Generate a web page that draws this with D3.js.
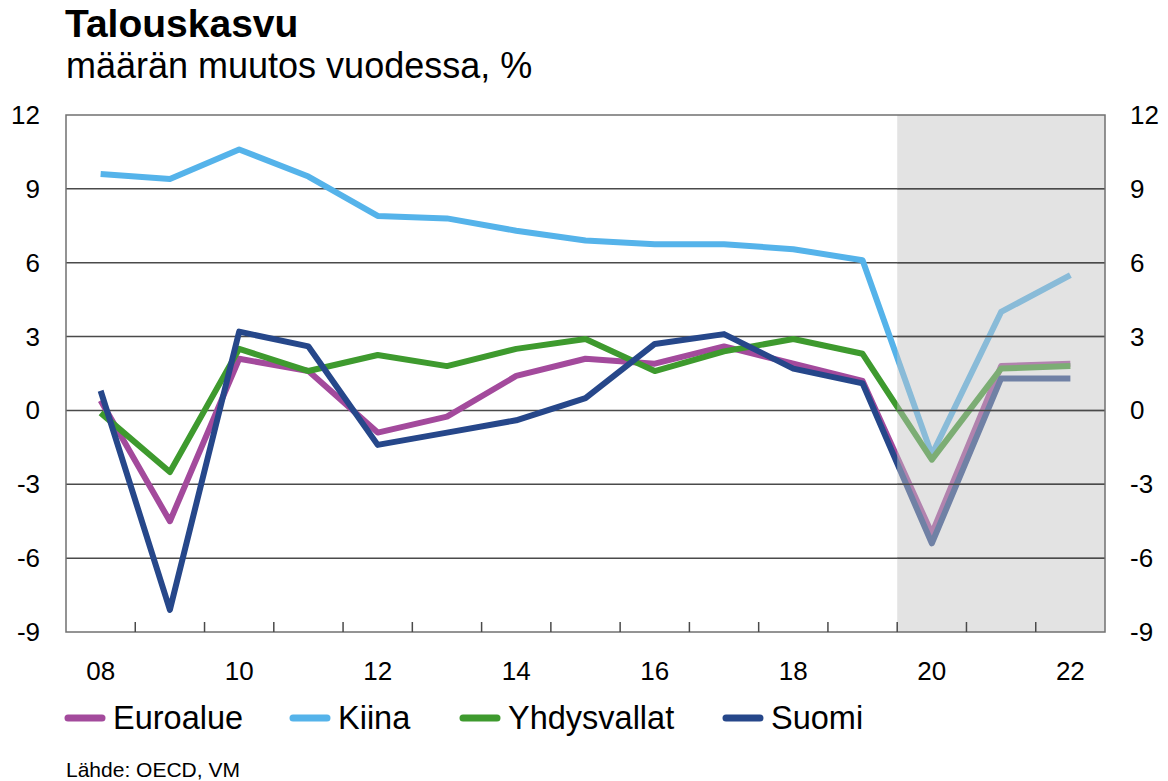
<!DOCTYPE html>
<html lang="fi">
<head>
  <meta charset="UTF-8">
  <title>Talouskasvu</title>
  <style>
    * {box-sizing: border-box;}
    html, body {
      margin: 0;
      padding: 0;
      background: #fff;
    }
    text {font-family: "Liberation Sans", Arial, sans-serif; fill: #000;}
  </style>
</head>
<body>
  <svg id="chart"></svg>

  <script src="https://d3js.org/d3.v7.min.js"></script>
  <script>
    const years = d3.range(2008, 2023)
    const yTicks = [12, 9, 6, 3, 0, -3, -6, -9]
    const forecastFrom = 2020

    const euroalue = [0.4, -4.5, 2.1, 1.6, -0.9, -0.25, 1.4, 2.1, 1.9, 2.6, 1.9, 1.2, -5.0, 1.8, 1.9]
    const kiina = [9.6, 9.4, 10.6, 9.5, 7.9, 7.8, 7.3, 6.9, 6.75, 6.75, 6.55, 6.1, -1.8, 4.0, 5.5]
    const yhdysvallat = [-0.1, -2.5, 2.5, 1.6, 2.25, 1.8, 2.5, 2.9, 1.6, 2.4, 2.9, 2.3, -2.0, 1.7, 1.8]
    const suomi = [0.8, -8.1, 3.2, 2.6, -1.4, -0.9, -0.4, 0.5, 2.7, 3.1, 1.7, 1.1, -5.4, 1.3, 1.3]

    const series = [
      {name: 'Euroalue', values: euroalue, color: '#a34a9c'},
      {name: 'Kiina', values: kiina, color: '#55b3ea'},
      {name: 'Yhdysvallat', values: yhdysvallat, color: '#3e9a2e'},
      {name: 'Suomi', values: suomi, color: '#26478a'}
    ]

    const width = 1168, height = 781
    const plot = {left: 66, right: 1105, top: 115, bottom: 632}

    const svg = d3.select('#chart')
      .attr('width', width)
      .attr('height', height)

    const x = d3.scaleBand().domain(years).range([plot.left, plot.right])
    const y = d3.scaleLinear().domain([-9, 12]).range([plot.bottom, plot.top])
    const cx = d => x(d) + x.bandwidth() / 2

    // title
    svg.append('text').attr('x', 65).attr('y', 37)
      .style('font-size', '39px').style('font-weight', 'bold')
      .text('Talouskasvu')
    svg.append('text').attr('x', 66).attr('y', 78)
      .style('font-size', '36px')
      .text('määrän muutos vuodessa, %')

    // grid under lines
    const grid = svg.append('g')
    grid.selectAll('line')
      .data(yTicks.filter(d => d > -9 && d < 12))
      .enter().append('line')
      .attr('x1', plot.left).attr('x2', plot.right)
      .attr('y1', d => y(d)).attr('y2', d => y(d))
      .attr('stroke', '#4a4a4a').attr('stroke-width', 1.5)

    const line = d3.line()
      .x((d, i) => cx(years[i]))
      .y(d => y(d))

    svg.append('g').selectAll('path')
      .data(series)
      .enter().append('path')
      .attr('d', d => line(d.values))
      .attr('fill', 'none')
      .attr('stroke', d => d.color)
      .attr('stroke-width', 6)
      .attr('stroke-linejoin', 'round')

    // forecast shade over the lines
    const shadeX = x(forecastFrom)
    svg.append('rect')
      .attr('x', shadeX).attr('y', plot.top)
      .attr('width', plot.right - shadeX).attr('height', plot.bottom - plot.top)
      .attr('fill', '#c4c4c4').attr('opacity', 0.47)

    svg.append('g').selectAll('line')
      .data(yTicks.filter(d => d > -9 && d < 12))
      .enter().append('line')
      .attr('x1', shadeX).attr('x2', plot.right)
      .attr('y1', d => y(d)).attr('y2', d => y(d))
      .attr('stroke', '#4a4a4a').attr('stroke-width', 1.5)

    // frame
    svg.append('rect')
      .attr('x', plot.left).attr('y', plot.top)
      .attr('width', plot.right - plot.left).attr('height', plot.bottom - plot.top)
      .attr('fill', 'none').attr('stroke', '#707070').attr('stroke-width', 1.5)

    // x ticks at band edges
    svg.append('g').selectAll('line')
      .data(years.slice(1))
      .enter().append('line')
      .attr('x1', d => x(d)).attr('x2', d => x(d))
      .attr('y1', plot.bottom).attr('y2', plot.bottom - 10)
      .attr('stroke', '#4a4a4a').attr('stroke-width', 1.5)

    svg.append('g').selectAll('text')
      .data(years.filter(d => d % 2 === 0))
      .enter().append('text')
      .attr('x', d => cx(d)).attr('y', 680)
      .attr('text-anchor', 'middle')
      .style('font-size', '26px')
      .text(d => String(d).slice(2))

    // y labels both sides
    svg.append('g').selectAll('text')
      .data(yTicks)
      .enter().append('text')
      .attr('x', 40).attr('y', d => y(d) + 9)
      .attr('text-anchor', 'end')
      .style('font-size', '26px')
      .text(d => d)
    svg.append('g').selectAll('text')
      .data(yTicks)
      .enter().append('text')
      .attr('x', 1130).attr('y', d => y(d) + 9)
      .style('font-size', '26px')
      .text(d => d)

    // legend
    const legendX = [65, 290, 460, 723]
    const lg = svg.append('g').selectAll('g')
      .data(series)
      .enter().append('g')
      .attr('transform', (d, i) => `translate(${legendX[i]},718)`)
    lg.append('line')
      .attr('x1', 3).attr('x2', 37)
      .attr('stroke', d => d.color).attr('stroke-width', 7)
      .attr('stroke-linecap', 'round')
    lg.append('text')
      .attr('x', 48).attr('y', 11)
      .style('font-size', '32.5px')
      .text(d => d.name)

    svg.append('text').attr('x', 66).attr('y', 777)
      .style('font-size', '21px')
      .text('Lähde: OECD, VM')
  </script>
</body>
</html>
